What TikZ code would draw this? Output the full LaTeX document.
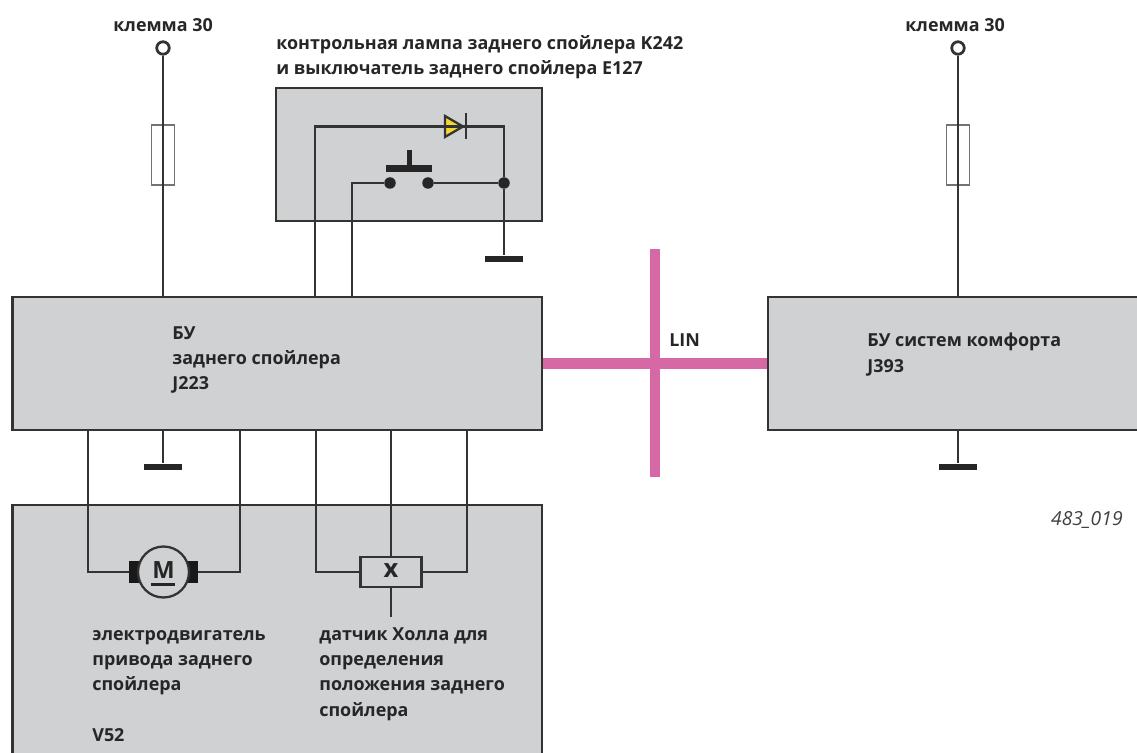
\documentclass[tikz,border=0pt]{standalone}
\usepackage{fontspec}
\setmainfont{Open Sans}
\usepackage{xcolor}
\usetikzlibrary{positioning}
\definecolor{boxgrey}{HTML}{D0D1D3}
\definecolor{wiregrey}{HTML}{333333}
\definecolor{linpink}{HTML}{D668A6}
\definecolor{lampyellow}{HTML}{F2D930}
\tikzset{
  wire/.style={draw=wiregrey,line width=1.65pt},
  unitbox/.style={draw=wiregrey,line width=1.65pt,fill=boxgrey,minimum width=#1,inner sep=0pt},
  gndbar/.style={fill=black!85,minimum width=0.76cm,minimum height=0.13cm,inner sep=0pt},
  fusebox/.style={draw=black!55,line width=0.8pt,minimum width=0.46cm,minimum height=1.2cm,inner sep=0pt},
  termring/.style={circle,draw=wiregrey,line width=1.6pt,fill=white,minimum size=0.25cm,inner sep=0pt},
  contact/.style={circle,fill=black!85,minimum size=0.23cm,inner sep=0pt},
  brush/.style={fill=black!90,minimum width=0.2cm,minimum height=0.44cm,inner sep=0pt},
  symbolchar/.style={font=\fontsize{13.5}{13.5}\selectfont\bfseries,text=black!85,inner sep=0pt},
  label/.style={font=\fontsize{10.2}{14.4}\selectfont\bfseries,text=black!85,align=left,anchor=north west,inner sep=0pt},
}
\begin{document}
\begin{tikzpicture}[x=0.02cm,y=-0.02cm]
\useasboundingbox (0,0) rectangle (1137,753);
\clip (0,0) rectangle (1137,753);
% boxes
\node[unitbox=10.6cm,minimum height=2.66cm] (spoiler) at (277,363.5) {};
\node[unitbox=8cm,minimum height=2.66cm] (comfort) at (968,363.5) {};
\node[unitbox=10.6cm,minimum height=5.4cm] (drive) at (277,640) {};
\node[unitbox=5.32cm,minimum height=2.66cm] (lamp) at (409,154.5) {};
% LIN bus
\coordinate (lintop) at (655,249);
\coordinate (linbot) at (655,477);
\draw[linpink,line width=6.2pt] (lintop) -- (linbot);
\draw[linpink,line width=6.2pt] (spoiler.east) -- (comfort.west);
% left supply
\node[termring] (termA) at (163,48) {};
\node[fusebox] (fuseA) at (163,155) {};
\draw[wire] (termA) -- (termA |- spoiler.north);
% right supply
\node[termring] (termB) at (958,48) {};
\node[fusebox] (fuseB) at (958,155) {};
\draw[wire] (termB) -- (termB |- comfort.north);
% grounds
\node[gndbar] (gndA) at (163,467) {};
\node[gndbar] (gndB) at (958,467) {};
\node[gndbar] (gndC) at (504,259) {};
\draw[wire] (gndA |- spoiler.south) -- (gndA);
\draw[wire] (gndB |- comfort.south) -- (gndB);
% lamp and switch
\coordinate (lampin) at (315,297);
\coordinate (swin) at (352,297);
\node[contact] (swL) at (390,183) {};
\node[contact] (swR) at (428,183) {};
\node[contact] (swJ) at (504,183) {};
\coordinate (ledK) at (466,126.5);
\fill[lampyellow] (445,116) -- (463,126.5) -- (445,137) -- cycle;
\draw[wire] (lampin) |- (ledK) -- (swJ |- ledK) -- (swJ) -- (gndC);
\draw[wire] (swin) |- (swL);
\draw[wire] (swR) -- (swJ);
\fill[black!85] (386,165) rectangle (432,172);
\fill[black!85] (406.5,150) rectangle (411.5,166);
\draw[wiregrey,line width=1.3pt] (445,116) -- (463,126.5) -- (445,137) -- cycle;
\draw[wiregrey,line width=1.3pt] (466,113) -- (466,139);
% motor
\node[brush] (brushL) at (134,572) {};
\node[brush] (brushR) at (193,572) {};
\node[circle,draw=wiregrey,line width=1.3pt,fill=boxgrey,minimum size=1.02cm,inner sep=0pt] (motor) at (163.5,572) {};
\node[symbolchar] (motorM) at (163.5,570) {M};
\fill[black!85] (151,583) rectangle (175,586);
\coordinate (motorL) at (88,430);
\coordinate (motorR) at (240,430);
\draw[wire] (motorL) |- (brushL.west);
\draw[wire] (motorR) |- (brushR.east);
% hall sensor
\node[draw=wiregrey,line width=1.65pt,fill=boxgrey,minimum width=1.22cm,minimum height=0.6cm,inner sep=0pt] (hall) at (391,572) {};
\node[symbolchar,font=\fontsize{14.5}{14.5}\selectfont\bfseries] (hallX) at (391,571) {x};
\coordinate (hallL) at (316,430);
\coordinate (hallM) at (391,430);
\coordinate (hallR) at (467,430);
\coordinate (hallD) at (391,617);
\draw[wire] (hallL) |- (hall.west);
\draw[wire] (hallR) |- (hall.east);
\draw[wire] (hallM) -- (hall.north);
\draw[wire] (hall.south) -- (hallD);
% labels
\node[label] (termAtxt) at (113,18) {клемма 30};
\node[label] (termBtxt) at (905,18) {клемма 30};
\node[label] (lamptxt) at (276,35) {контрольная лампа заднего спойлера K242\\и выключатель заднего спойлера E127};
\node[label] (spoilertxt) at (172,326) {БУ\\заднего спойлера\\J223};
\node[label] (comforttxt) at (867,333) {БУ систем комфорта\\J393};
\node[label] (lintxt) at (669,333) {LIN};
\node[label] (motortxt) at (92,630) {электродвигатель\\привода заднего\\спойлера\\[14.4pt]V52};
\node[label] (halltxt) at (319,627) {датчик Холла для\\определения\\положения заднего\\спойлера};
\node[font=\fontsize{11}{12}\selectfont\itshape,text=black!75,anchor=north east,inner sep=0pt] (figno) at (1123,511) {483\_019};
\end{tikzpicture}
\end{document}
